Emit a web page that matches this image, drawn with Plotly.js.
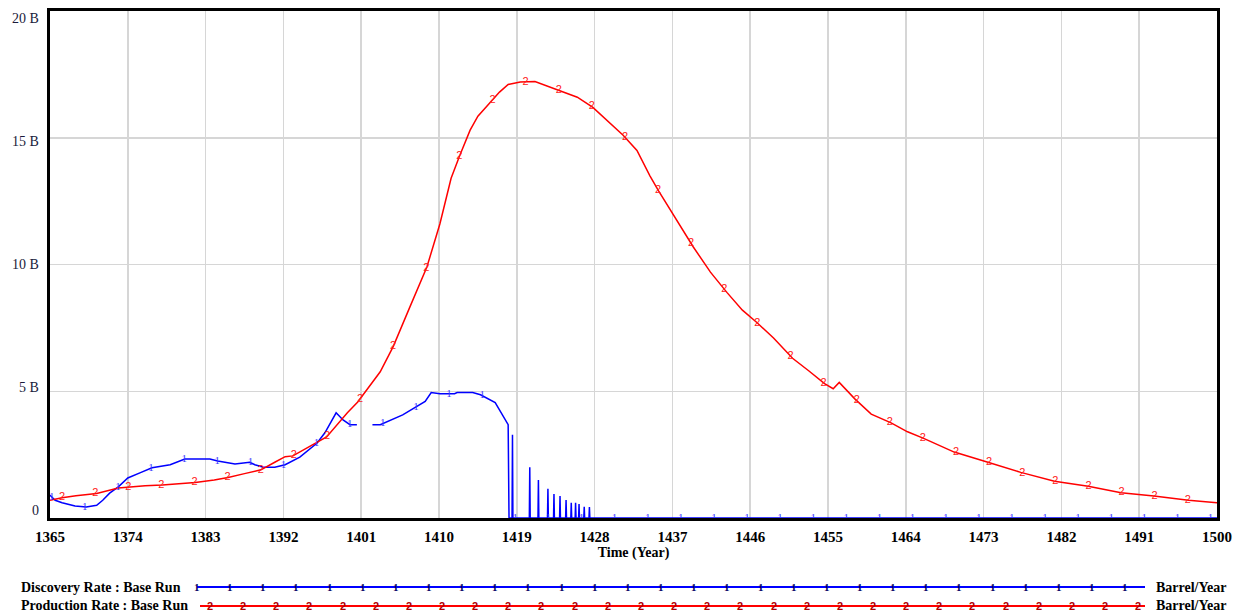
<!DOCTYPE html>
<html>
<head>
<meta charset="utf-8">
<script src="https://cdn.plot.ly/plotly-3.0.1.min.js"></script>
<style>
html,body{margin:0;padding:0;background:#fff;}
#chart{width:1233px;height:614px;}
</style>
</head>
<body>
<div id="chart"></div>
<script>
// ---- Data (values in billions of barrels per year) ----
const productionYears = [1365,1366.4,1368,1370.4,1372.9,1374,1376,1378,1380,1381.8,1384,1385.6,1387.5,1389.4,1391,1392.2,1393.1,1395,1397,1399.4,1400.6,1403.2,1404.7,1406.6,1408.6,1410.1,1411.4,1412.4,1413.6,1414.5,1416,1417,1418,1419.4,1421.1,1422.5,1424,1426,1427.8,1429.4,1431.3,1432.9,1434.4,1435.4,1437.2,1439.4,1441.4,1443.3,1445.1,1446.8,1448.7,1450.9,1452.8,1454.6,1455.6,1456.3,1458.1,1460,1462.3,1464.2,1466,1469.6,1473.5,1477.3,1481.2,1485.1,1488.9,1492.7,1496.7,1500];
const productionRate = [0.7,0.8,0.88,0.97,1.18,1.22,1.27,1.3,1.35,1.4,1.5,1.6,1.75,1.9,2.2,2.42,2.45,2.8,3.2,4.15,4.58,5.77,6.76,8.3,9.9,11.6,13.4,14.3,15.3,15.85,16.4,16.8,17.1,17.2,17.22,17.05,16.85,16.6,16.2,15.7,15.1,14.5,13.5,12.9,11.9,10.7,9.7,8.9,8.2,7.7,7.1,6.3,5.8,5.3,5.1,5.35,4.7,4.1,3.75,3.4,3.15,2.6,2.2,1.8,1.45,1.25,1.0,0.87,0.7,0.6];

const discoveryYears = [1365,1365.6,1366.4,1367.9,1369.2,1370.4,1371.1,1371.9,1372.9,1374,1375.4,1376.8,1378.9,1380.6,1383.5,1384.4,1386.4,1388.1,1388.7,1389.7,1391,1392.2,1393.9,1395.9,1396.8,1398.1,1398.9,1399.7,1400.5,1401.4,1402.3,1403.2,1405.8,1407.2,1408.4,1409.1,1410.1,1411.8,1412.1,1413.9,1414.8,1416.5,1418,1418.1,1418.45,1418.5,1418.55,1420.45,1420.5,1420.55,1421.45,1421.5,1421.55,1422.55,1422.6,1422.65,1423.25,1423.3,1423.35,1423.95,1424,1424.05,1424.65,1424.7,1424.75,1425.25,1425.3,1425.35,1425.75,1425.8,1425.85,1426.15,1426.2,1426.25,1426.75,1426.8,1426.85,1427.35,1427.4,1427.45,1500];
const discoveryRate = [0.9,0.7,0.6,0.47,0.43,0.5,0.7,0.98,1.23,1.58,1.78,1.98,2.1,2.33,2.33,2.25,2.13,2.2,2.1,2.0,2.0,2.1,2.4,2.96,3.36,4.15,3.87,3.68,3.68,null,3.68,3.68,4.07,4.35,4.6,4.95,4.9,4.9,4.95,4.95,4.86,4.55,3.68,0,0,3.28,0,0,2.0,0,0,1.5,0,0,1.15,0,0,0.95,0,0,0.87,0,0,0.71,0,0,0.6,0,0,0.6,0,0,0.55,0,0,0.44,0,0,0.43,0,0];

const yTickVals = [0,5,10,15,20];
const yTickText = ["0","5 B","10 B","15 B","20 B"];
const seriesNames = ["Discovery Rate : Base Run","Production Rate : Base Run"];
const unitLabel = "Barrel/Year";
const markerGlyphs = ["1","2"];

// ---- Helpers ----
function interp(xs, ys, x){
  for(let i=0;i<xs.length-1;i++){
    if(x>=xs[i] && x<=xs[i+1]){
      if(ys[i]===null||ys[i+1]===null) return null;
      const t=(xs[i+1]-xs[i])===0?0:(x-xs[i])/(xs[i+1]-xs[i]);
      return ys[i]+t*(ys[i+1]-ys[i]);
    }
  }
  return null;
}
function markerSeries(xs, ys, start, step){
  const mx=[],my=[];
  for(let x=start;x<=1500.01;x+=step){
    const v=interp(xs,ys,x);
    if(v!==null){mx.push(x);my.push(v);}
  }
  return {mx,my};
}
const blueM = markerSeries(discoveryYears, discoveryRate, 1365.2, 3.83);
const redM = markerSeries(productionYears, productionRate, 1366.4, 3.83);

const traces = [
  {x:discoveryYears,y:discoveryRate,mode:'lines',line:{color:'#0000ff',width:1.5},connectgaps:false,hoverinfo:'skip'},
  {x:productionYears,y:productionRate,mode:'lines',line:{color:'#ff0000',width:1.5},hoverinfo:'skip'},
  {x:blueM.mx,y:blueM.my,mode:'text',text:blueM.mx.map(()=>markerGlyphs[0]),textposition:'middle center',
   textfont:{family:'Liberation Serif',size:11,color:'#3a3aff'},cliponaxis:false,hoverinfo:'skip'},
  {x:redM.mx,y:redM.my,mode:'text',text:redM.mx.map(()=>markerGlyphs[1]),textposition:'middle center',
   textfont:{family:'Liberation Sans',size:11,color:'#ff2020'},cliponaxis:false,hoverinfo:'skip'}
];

// ---- Layout geometry ----
const L=50, R=16, T=11, B=96, W=1233, H=614;
const pw=W-L-R, ph=H-T-B;
const fx=p=>(p-L)/pw, fy=p=>(H-B-p)/ph;

const shapes=[
  {type:'line',xref:'paper',yref:'paper',x0:fx(197),x1:fx(1145),y0:fy(587),y1:fy(587),line:{color:'#0000ff',width:2}},
  {type:'line',xref:'paper',yref:'paper',x0:fx(200),x1:fx(1145),y0:fy(606),y1:fy(606),line:{color:'#ff0000',width:2}}
];
const legFont={family:'Liberation Serif',size:14,color:'#000'};
const annotations=[
  {xref:'paper',yref:'paper',x:fx(19),y:fy(587),xanchor:'left',yanchor:'middle',showarrow:false,text:'<b>'+seriesNames[0]+'</b>',font:legFont},
  {xref:'paper',yref:'paper',x:fx(19),y:fy(605),xanchor:'left',yanchor:'middle',showarrow:false,text:'<b>'+seriesNames[1]+'</b>',font:legFont},
  {xref:'paper',yref:'paper',x:fx(1154),y:fy(587),xanchor:'left',yanchor:'middle',showarrow:false,text:'<b>'+unitLabel+'</b>',font:legFont},
  {xref:'paper',yref:'paper',x:fx(1154),y:fy(605),xanchor:'left',yanchor:'middle',showarrow:false,text:'<b>'+unitLabel+'</b>',font:legFont}
];
// y tick labels placed as Vensim does (spread evenly between 19px and 510px)
yTickText.forEach((t,i)=>{
  const py = 510 - i*(510-19)/(yTickText.length-1);
  annotations.push({xref:'paper',yref:'paper',x:fx(41),y:fy(py),xanchor:'right',yanchor:'middle',showarrow:false,
    text:t,font:{family:'Liberation Serif',size:14,color:'#1a1a3a'}});
});
for(let p=197;p<=1140;p+=33.15){
  annotations.push({xref:'paper',yref:'paper',x:fx(p),y:fy(587),xanchor:'center',yanchor:'middle',showarrow:false,text:'<b>'+markerGlyphs[0]+'</b>',font:{family:'Liberation Serif',size:11,color:'#000060'}});
}
for(let p=210;p<=1140;p+=33.15){
  annotations.push({xref:'paper',yref:'paper',x:fx(p),y:fy(606),xanchor:'center',yanchor:'middle',showarrow:false,text:'<b>'+markerGlyphs[1]+'</b>',font:{family:'Liberation Sans',size:11,color:'#b00000'}});
}

const layout = {
  width:W,height:H,
  margin:{l:L,r:R,t:T,b:B,pad:0},
  paper_bgcolor:'#fff',plot_bgcolor:'#fff',
  showlegend:false,
  xaxis:{range:[1365,1500],tickmode:'linear',tick0:1365,dtick:9,
    showgrid:true,gridcolor:'#d6d6d6',gridwidth:1.5,zeroline:false,
    showline:true,linecolor:'#000',linewidth:3,mirror:true,
    ticks:'',ticklabelstandoff:3,
    tickfont:{family:'Liberation Serif',size:15,color:'#000',weight:'bold'},
    title:{text:'<b>Time (Year)</b>',font:{family:'Liberation Serif',size:14,color:'#000'},standoff:0}},
  yaxis:{range:[0,20],tickmode:'array',tickvals:yTickVals,showticklabels:false,
    showgrid:true,gridcolor:'#d6d6d6',gridwidth:1.5,zeroline:false,
    showline:true,linecolor:'#000',linewidth:3,mirror:true,ticks:''},
  shapes:shapes,annotations:annotations
};
Plotly.newPlot('chart',traces,layout,{displayModeBar:false,staticPlot:true});
</script>
</body>
</html>
